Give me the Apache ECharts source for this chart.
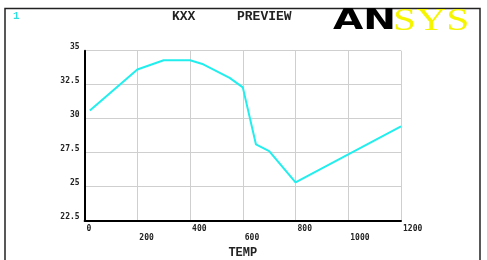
<!DOCTYPE html>
<html>
<head>
<meta charset="utf-8">
<script src="https://cdn.jsdelivr.net/npm/echarts@6/dist/echarts.min.js"></script>
<style>
html,body{margin:0;padding:0;background:#fff;}
#c{width:487px;height:260px;}
</style>
</head>
<body>
<div id="c"></div>
<script>
// Data
var temps = [20, 200, 300, 400, 450, 500, 550, 600, 650, 700, 800, 1200];
var kxx   = [30.6, 33.62, 34.3, 34.3, 34.0, 33.5, 33.0, 32.3, 28.1, 27.6, 25.3, 29.43];
var titleParts = ['KXX', 'PREVIEW'];
var xName = 'TEMP';
var windowNumber = '1';

var seriesData = temps.map(function (t, i) { return [t, kxx[i]]; });

var chart = echarts.init(document.getElementById('c'), null, {renderer: 'canvas'});
var tickFont = '"DejaVu Sans Mono", monospace';
chart.setOption({
  backgroundColor: '#ffffff',
  animation: false,
  grid: {left: 84.6, right: 86, top: 50.7, bottom: 39.5, outerBoundsMode: 'none', containLabel: false},
  xAxis: {
    type: 'value', min: 0, max: 1200, interval: 200,
    name: xName, nameLocation: 'middle', nameGap: 22,
    nameTextStyle: {fontFamily: '"Liberation Mono", monospace', fontWeight: 'bold', fontSize: 12, color: '#222'},
    axisLine: {show: true, lineStyle: {color: '#000', width: 2}},
    axisTick: {show: false},
    splitLine: {show: true, lineStyle: {color: '#cfcfcf', width: 1}},
    axisLabel: {
      fontFamily: tickFont, fontWeight: 'bold', fontSize: 8, color: '#222',
      align: 'left', margin: 4, lineHeight: 9, padding: [0, 0, 0, 2],
      formatter: function (v, i) { return (i % 2 === 1) ? '\n' + v : String(v); }
    }
  },
  yAxis: {
    type: 'value', min: 22.5, max: 35, interval: 2.5,
    axisLine: {show: true, lineStyle: {color: '#000', width: 2}},
    axisTick: {show: false},
    splitLine: {show: true, lineStyle: {color: '#cfcfcf', width: 1}},
    axisLabel: {
      fontFamily: tickFont, fontWeight: 'bold', fontSize: 8, color: '#222',
      margin: 5, verticalAlign: 'bottom'
    }
  },
  series: [{
    type: 'line', data: seriesData, symbol: 'none',
    lineStyle: {color: '#22eeee', width: 2},
    itemStyle: {color: '#22eeee'}
  }],
  graphic: [
    {type: 'rect', z: 100, silent: true,
     shape: {x: 5, y: 8.5, width: 475, height: 260},
     style: {fill: 'none', stroke: '#222', lineWidth: 1.5}},
    {type: 'text', z: 100, left: 13, top: 11,
     style: {text: windowNumber, fill: '#33dddd', font: 'bold 11px "Liberation Mono", monospace'}},
    {type: 'text', z: 100, x: 172, y: 10,
     style: {text: titleParts[0], fill: '#222', font: 'bold 13px "Liberation Mono", monospace'}},
    {type: 'text', z: 100, x: 237, y: 10,
     style: {text: titleParts[1], fill: '#222', font: 'bold 13px "Liberation Mono", monospace'}},
    {type: 'text', z: 100, x: 333, y: 7, scaleX: 1.35,
     style: {text: 'AN', fill: '#000', font: '900 29px "DejaVu Sans", sans-serif'}},
    {type: 'text', z: 100, x: 393, y: 6, scaleX: 1.3,
     style: {text: 'SYS', fill: '#f5f500', font: '32px "Liberation Serif", serif'}}
  ]
});
</script>
</body>
</html>
